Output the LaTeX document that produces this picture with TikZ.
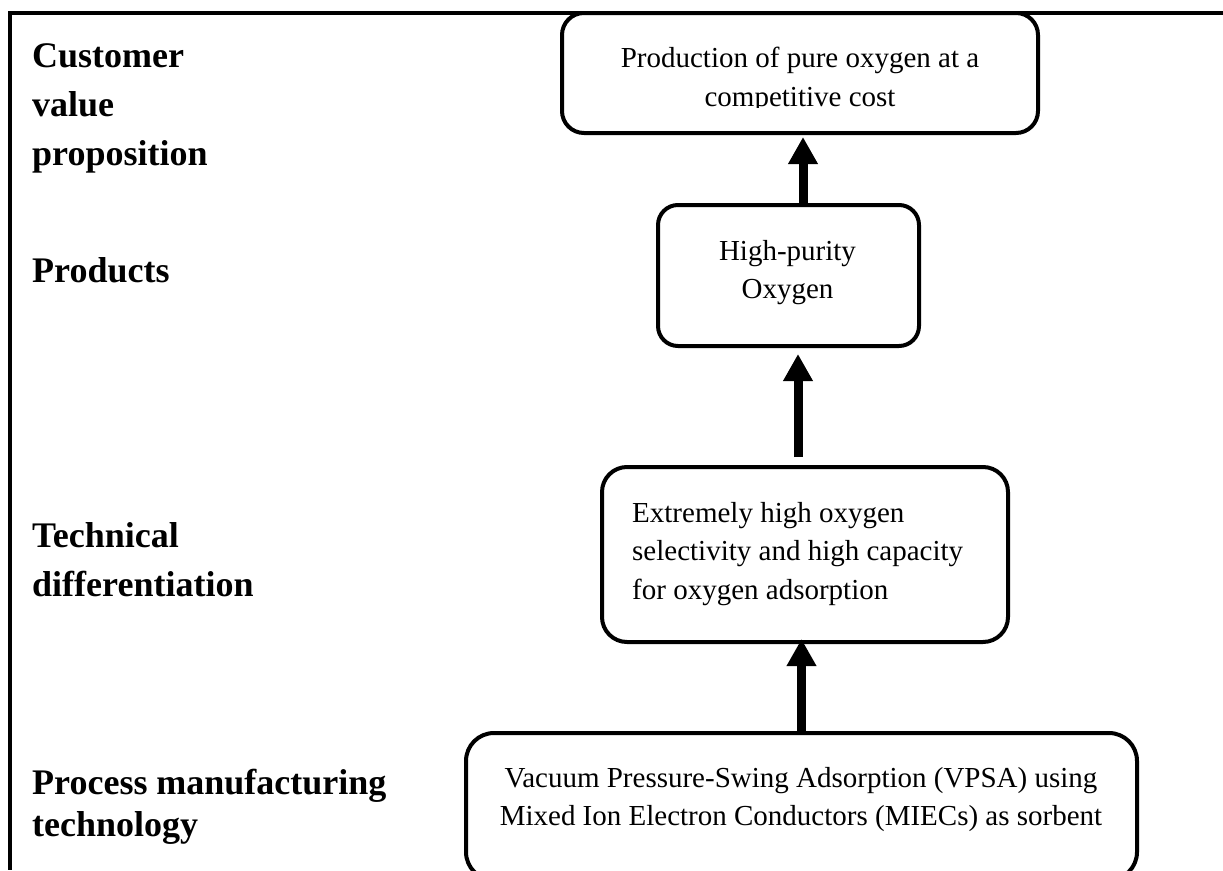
\documentclass[tikz,border=0pt]{standalone}
\usepackage{fontspec}
\setmainfont{Liberation Serif}
\usetikzlibrary{arrows.meta}
\begin{document}
\begin{tikzpicture}[x=1pt,y=-1pt,
  box/.style={draw,line width=4pt,inner sep=0pt,rectangle},
  body/.style={font=\fontsize{29}{38.5}\selectfont,inner sep=0pt},
  lab/.style={font=\fontsize{36}{49}\selectfont\bfseries,inner sep=0pt,anchor=base west,align=left},
  arr/.style={line width=9pt,-{Triangle[width=28pt,length=27pt]}},
]
\useasboundingbox (0,0) rectangle (1223,870);
% frame
\draw[line width=4pt] (8,13) -- (1223,13);
\draw[line width=4pt] (10,11) -- (10,870);
% boxes
\node[box,rounded corners=22pt,minimum width=476pt,minimum height=120pt] (cvp) at (800,73) {};
\node[box,rounded corners=20pt,minimum width=261pt,minimum height=141pt] (prod) at (788.5,275.5) {};
\node[box,rounded corners=25pt,minimum width=406pt,minimum height=175pt] (tech) at (805,554.5) {};
\node[box,rounded corners=28pt,minimum width=671pt,minimum height=147pt] (proc) at (801.5,806.5) {};
% box texts (base anchor = baseline of the last line)
\node[body,anchor=base] (cvpa) at (800,67) {Production of pure oxygen at a};
\begin{scope}
\clip (560,80) rectangle (1040,107);
\node[body,anchor=base] (cvpb) at (800,106) {competitive cost};
\end{scope}
\node[body,anchor=base,align=center] (prodt) at (787.5,298.5) {High-purity\\Oxygen};
\node[body,anchor=base west,align=left] (techt) at (632,599) {Extremely high oxygen\\selectivity and high capacity\\for oxygen adsorption};
\node[body,anchor=base,align=center] (proct) at (801,825.5) {Vacuum Pressure-Swing Adsorption (VPSA) using\\Mixed Ion Electron Conductors (MIECs) as sorbent};
% left labels
\node[lab] (l1) at (32,165) {Customer\\value\\proposition};
\node[lab] (l2) at (32,282) {Products};
\node[lab] (l3) at (32,596) {Technical\\differentiation};
\node[lab,font=\fontsize{36}{42}\selectfont\bfseries] (l4) at (32,836) {Process manufacturing\\technology};
% arrows
\coordinate (a1) at ([xshift=14.5pt]prod.north);
\coordinate (a2) at ([xshift=-7pt]tech.north);
\coordinate (a2s) at ([xshift=-7pt,yshift=8pt]tech.north);
\draw[arr,shorten >=2pt] (a1) -- (a1 |- cvp.south);
\draw[arr,shorten >=6pt] (a2s) -- (a2 |- prod.south);
\draw[arr,shorten >=-5pt] (proc.north) -- (proc.north |- tech.south);
\end{tikzpicture}
\end{document}
